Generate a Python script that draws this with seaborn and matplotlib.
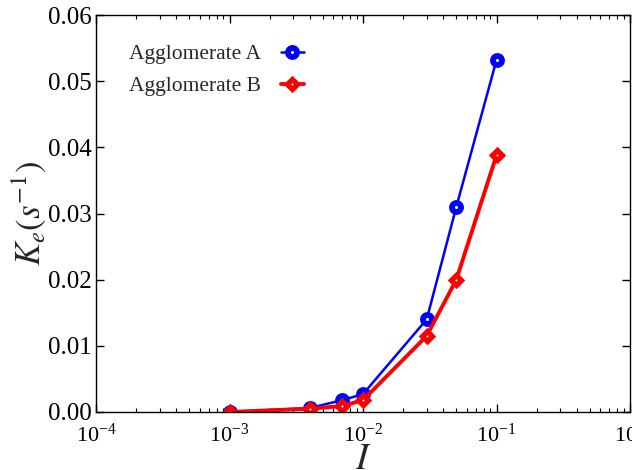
import matplotlib
matplotlib.use("Agg")
import matplotlib.pyplot as plt
import seaborn as sns
import pandas as pd
import numpy as np

I_vals = [1e-3, 4e-3, 7e-3, 1e-2, 3e-2, 5e-2, 1e-1]
ke_A = [0.0, 0.0006, 0.0018, 0.0027, 0.0140, 0.0310, 0.0532]
ke_B = [0.0, 0.0005, 0.0009, 0.0018, 0.0115, 0.0200, 0.0388]
series_names = ["Agglomerate A", "Agglomerate B"]
y_ticks = [0.00, 0.01, 0.02, 0.03, 0.04, 0.05, 0.06]

sns.set_style("white")
plt.rcParams['font.family'] = ['Liberation Serif', 'DejaVu Serif']
plt.rcParams['mathtext.fontset'] = 'stix'
plt.rcParams['xtick.direction'] = 'in'
plt.rcParams['ytick.direction'] = 'in'

fig = plt.figure(figsize=(6.32, 4.70), dpi=100)
ax = fig.add_axes([96/632, 58/470, 534/632, 397/470])

dfA = pd.DataFrame({"I": I_vals, "Ke": ke_A})
dfB = pd.DataFrame({"I": I_vals, "Ke": ke_B})

sns.lineplot(data=dfA, x="I", y="Ke", ax=ax, color="blue", lw=1.8,
             marker="o", markersize=6.5, markerfacecolor="white",
             markeredgecolor="blue", markeredgewidth=4.2, label=series_names[0])
sns.lineplot(data=dfB, x="I", y="Ke", ax=ax, color="red", lw=2.8,
             marker="D", markersize=5.5, markerfacecolor="white",
             markeredgecolor="red", markeredgewidth=3.8, label=series_names[1])

ax.set_xscale("log")
ax.set_xlim(1e-4, 1e0)
ax.set_ylim(0, 0.06)
ax.set_yticks(y_ticks)
ax.set_yticklabels([f"{v:.2f}" for v in y_ticks])

for s in ax.spines.values():
    s.set_color("black")
    s.set_linewidth(1.0)

ax.tick_params(which="both", direction="in", top=True, right=True,
               bottom=True, left=True, colors="black")
ax.tick_params(axis="x", labelsize=16, pad=8)
ax.tick_params(axis="y", labelsize=18, pad=3)
ax.tick_params(which="major", length=6, width=1)
ax.tick_params(which="minor", length=3, width=0.8)

ax.set_xlabel("$I$", fontsize=27, labelpad=-3)
ax.set_ylabel("$K_e(s^{-1})$", fontsize=25, labelpad=0)

leg = ax.legend(loc="upper left", frameon=False, markerfirst=False,
                fontsize=15.5, bbox_to_anchor=(0.026, 0.975), handlelength=1.1,
                labelspacing=0.55, handletextpad=0.9)

fig.savefig("out.png", dpi=100)
